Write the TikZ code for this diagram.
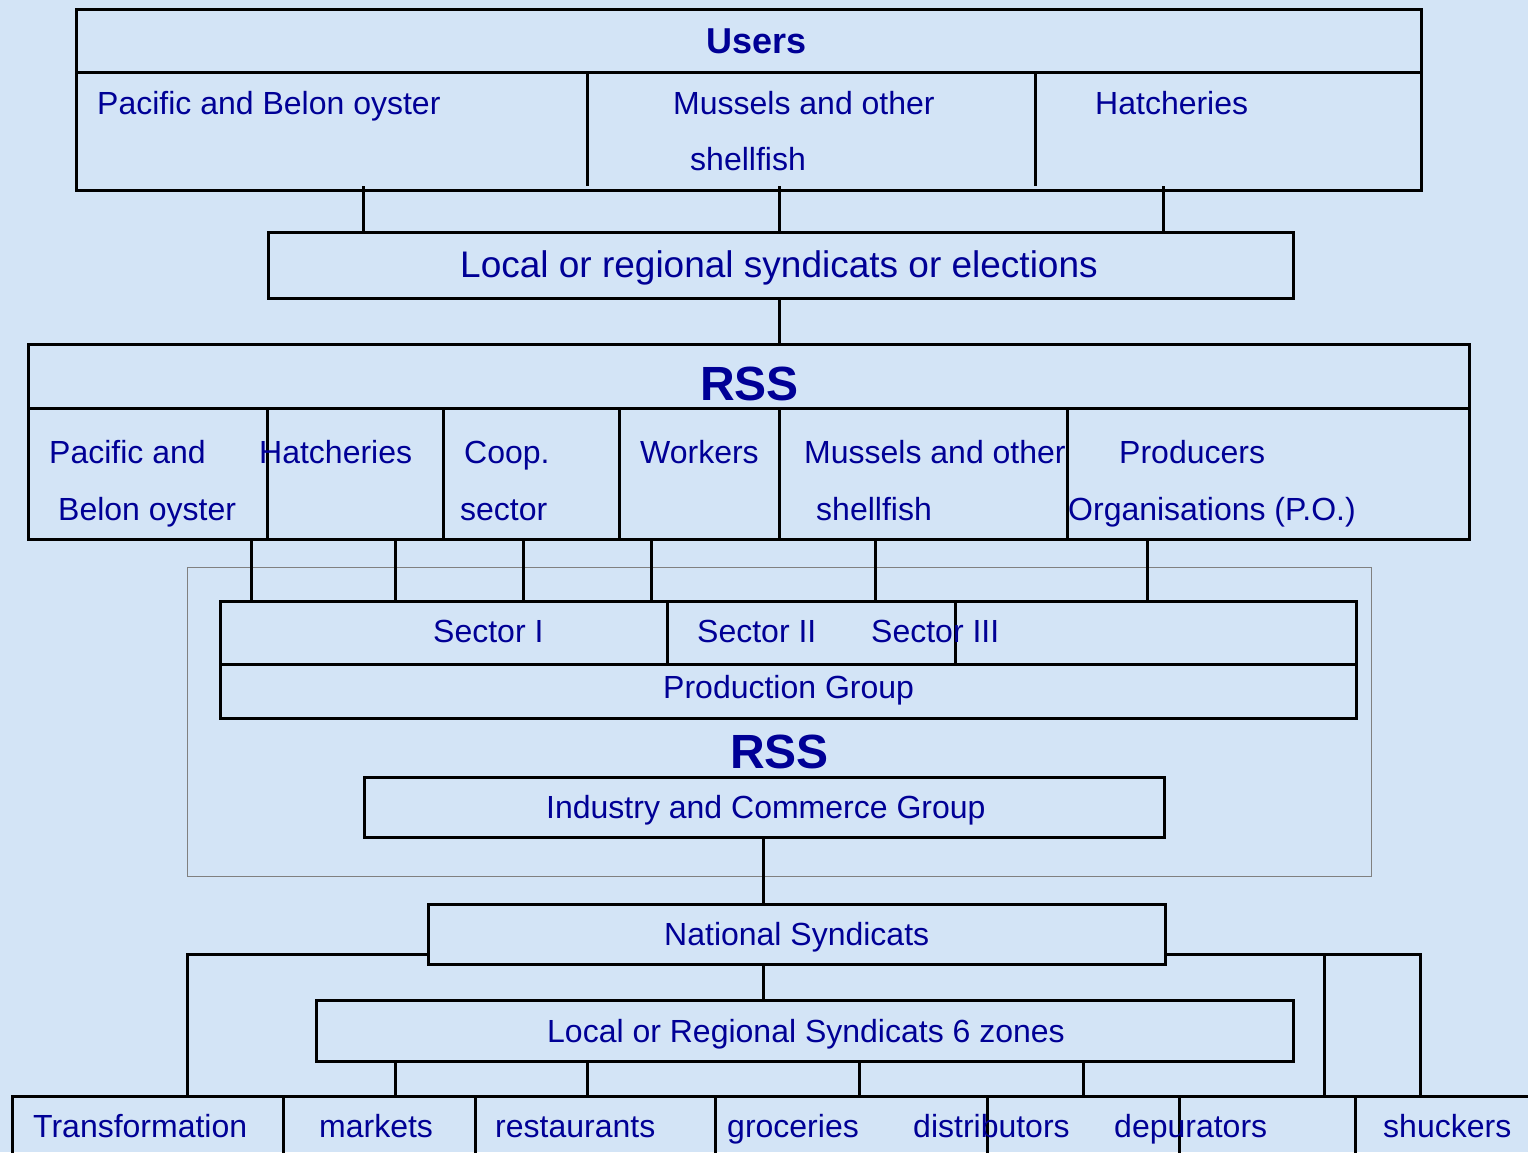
\documentclass[tikz,border=0pt]{standalone}
\usepackage{fontspec}
\setmainfont{Liberation Sans}
\usepackage{tikz}
\usetikzlibrary{positioning}
\definecolor{bgblue}{RGB}{211,228,246}
\definecolor{txtblue}{RGB}{0,0,150}

\begin{document}
\begin{tikzpicture}[x=1pt, y=-1pt,
    box/.style={draw, line width=3pt, inner sep=0pt, anchor=north west},
    frame/.style={draw=gray, line width=1pt, inner sep=0pt, anchor=north west},
    link/.style={line width=3pt},
    txt/.style={text=txtblue, inner sep=0pt, anchor=base west, font=\fontsize{32}{38}\selectfont},
    bigtxt/.style={txt, font=\fontsize{37}{44}\selectfont},
    headtxt/.style={txt, font=\bfseries\fontsize{36}{43}\selectfont},
    rsstxt/.style={txt, font=\bfseries\fontsize{48}{56}\selectfont}
]
\clip (0,0) rectangle (1528,1152);
\fill[bgblue] (0,0) rectangle (1528,1152);

\node[frame, minimum width=1184, minimum height=309] (rssframe) at (187,567) {};

\node[box, minimum width=1345, minimum height=63] (usershead) at (75,8) {};
\node[box, minimum width=1345, minimum height=118] (usersrow) at (75,71) {};
\node[box, minimum width=1025, minimum height=66] (local) at (267,231) {};
\node[box, minimum width=1441, minimum height=64] (rsshead) at (27,343) {};
\node[box, minimum width=1441, minimum height=131] (rssrow) at (27,407) {};
\node[box, minimum width=1136, minimum height=63] (sectors) at (219,600) {};
\node[box, minimum width=1136, minimum height=54] (prodgroup) at (219,663) {};
\node[box, minimum width=800, minimum height=60] (industry) at (363,776) {};
\node[box, minimum width=737, minimum height=60] (national) at (427,903) {};
\node[box, minimum width=977, minimum height=61] (localreg) at (315,999) {};
\node[box, minimum width=1540, minimum height=80] (outlets) at (11,1095) {};

\foreach \x in {587,1035}
    \draw[link] (\x,0 |- usersrow.north) -- ([yshift=6pt]\x,0 |- usersrow.south);
\foreach \x in {267,443,619,779,1067}
    \draw[link] (\x,0 |- rssrow.north) -- ([yshift=3pt]\x,0 |- rssrow.south);
\foreach \x in {667,955}
    \draw[link] (\x,0 |- sectors.north) -- (\x,0 |- sectors.south);
\foreach \x in {283,475,715,987,1179,1355}
    \draw[link] (\x,0 |- outlets.north) -- (\x,0 |- outlets.south);

\node[headtxt] (users) at (706,53) {Users};
\node[txt] (upacific) at (97,114) {Pacific and Belon oyster};
\node[txt] (umussels) at (673,114) {Mussels and other};
\node[txt] (ushell) at (690,170) {shellfish};
\node[txt] (uhatch) at (1095,114) {Hatcheries};
\node[bigtxt] (localtxt) at (460,277) {Local or regional syndicats or elections};

\node[rsstxt] (rssone) at (700,400) {RSS};
\node[txt] (rpacific) at (49,463) {Pacific and};
\node[txt] (rbelon) at (58,520) {Belon oyster};
\node[txt] (rhatch) at (259,463) {Hatcheries};
\node[txt] (rcoop) at (464,463) {Coop.};
\node[txt] (rsector) at (460,520) {sector};
\node[txt] (rworkers) at (640,463) {Workers};
\node[txt] (rmussels) at (804,463) {Mussels and other};
\node[txt] (rshell) at (816,520) {shellfish};
\node[txt] (rprod) at (1119,463) {Producers};
\node[txt] (rorg) at (1068,520) {Organisations (P.O.)};

\node[txt] (secone) at (433,642) {Sector I};
\node[txt] (sectwo) at (697,642) {Sector II};
\node[txt] (secthree) at (871,642) {Sector III};
\node[txt] (prodtxt) at (663,698) {Production Group};
\node[rsstxt] (rsstwo) at (730,768) {RSS};
\node[txt] (indtxt) at (546,818) {Industry and Commerce Group};
\node[txt] (nattxt) at (664,945) {National Syndicats};
\node[txt] (lregtxt) at (547,1042) {Local or Regional Syndicats 6 zones};

\node[txt] (otrans) at (33,1137) {Transformation};
\node[txt] (omarkets) at (319,1137) {markets};
\node[txt] (orest) at (495,1137) {restaurants};
\node[txt] (ogroc) at (727,1137) {groceries};
\node[txt] (odistr) at (913,1137) {distributors};
\node[txt] (odepur) at (1114,1137) {depurators};
\node[txt] (oshuck) at (1383,1137) {shuckers};

\foreach \x in {363,779,1163}
    \draw[link] ([yshift=6pt]\x,0 |- usersrow.south) -- (\x,0 |- local.north);
\draw[link] (779,0 |- local.south) -- (779,0 |- rsshead.north);
\foreach \x in {251,395,523,651,875,1147}
    \draw[link] ([yshift=3pt]\x,0 |- rssrow.south) -- (\x,0 |- sectors.north);
\draw[link] (763,0 |- industry.south) -- (763,0 |- national.north);
\draw[link] (763,0 |- national.south) -- (763,0 |- localreg.north);
\foreach \x in {395,587,859,1083}
    \draw[link] (\x,0 |- localreg.south) -- (\x,0 |- outlets.north);

\coordinate (natleft) at ([yshift=12pt]national.south west);
\coordinate (natright) at ([yshift=12pt]national.south east);
\draw[link] (natleft) -| (187,0 |- outlets.north);
\draw[link] (natright) -| (1420,0 |- outlets.north);
\draw[link] (1324,0 |- natright) -- (1324,0 |- outlets.north);
\end{tikzpicture}
\end{document}
